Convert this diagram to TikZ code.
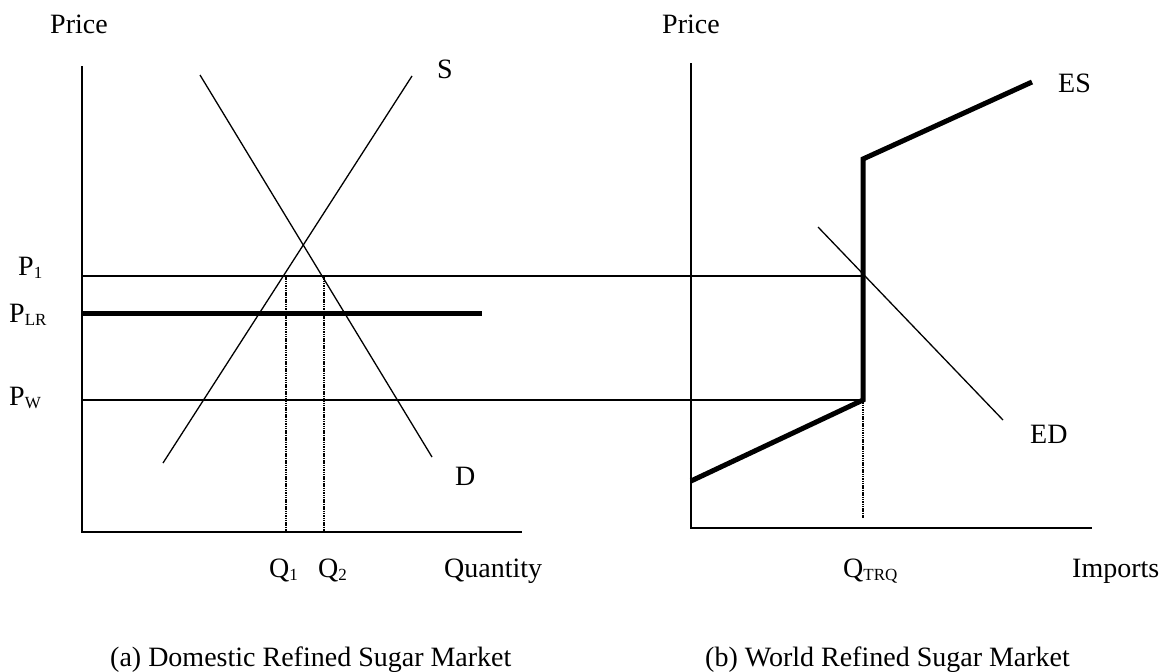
\documentclass[tikz,border=0pt]{standalone}
\usepackage{fontspec}
\setmainfont{Liberation Serif}
\newcommand{\lbl}[1]{\raisebox{-0.12em}{\fontsize{17}{17}\selectfont #1}}
\begin{document}
\begin{tikzpicture}[x=1pt,y=-1pt,
  thin line/.style={line width=1.3pt},
  thick curve/.style={line width=5pt},
  guide/.style={line width=1.3pt, dash pattern=on 1.5pt off 0.8pt},
  txt/.style={font=\fontsize{28}{32}\selectfont, inner sep=0pt, anchor=base west}]
\useasboundingbox (0,0) rectangle (1168,672);
% ---- coordinates, panel (a)
\coordinate (aO) at (82,532);
\coordinate (aT) at (82,66);
\coordinate (aX) at (522,532);
\coordinate (s0) at (163,463);
\coordinate (s1) at (412,76);
\coordinate (d0) at (200,75);
\coordinate (d1) at (432,457);
\coordinate (p1a) at (82,276);
\coordinate (pwa) at (82,400);
\coordinate (plr0) at (82,313);
\coordinate (plr1) at (482,313);
\coordinate (q1t) at (286,276);
\coordinate (q1b) at (286,532);
\coordinate (q2t) at (324,276);
\coordinate (q2b) at (324,532);
% ---- coordinates, panel (b)
\coordinate (bO) at (691,528);
\coordinate (bT) at (691,63);
\coordinate (bX) at (1092,528);
\coordinate (p1b) at (864,276);
\coordinate (pwb) at (863,400);
\coordinate (es0) at (691,481);
\coordinate (es1) at (863,400);
\coordinate (es2) at (863,159);
\coordinate (es3) at (1032,82);
\coordinate (ed0) at (818,227);
\coordinate (ed1) at (1003,420);
\coordinate (qtb) at (863,518);
% ---- axes
\draw[thin line] (aT) -- (aO) -- (aX);
\draw[thin line] (bT) -- (bO) -- (bX);
% ---- price lines
\draw[thin line] (p1a) -- (p1b);
\draw[thin line] (pwa) -- (pwb);
\draw[thick curve] (plr0) -- (plr1);
% ---- S and D
\draw[thin line] (s0) -- (s1);
\draw[thin line] (d0) -- (d1);
\draw[guide] (q1t) -- (q1b);
\draw[guide] (q2t) -- (q2b);
% ---- ES and ED
\draw[thick curve, line join=miter] (es0) -- (es1) -- (es2) -- (es3);
\draw[thin line] (ed0) -- (ed1);
\draw[guide] (es1) -- (qtb);
% ---- labels
\node[txt] (priceA) at (50,33) {Price};
\node[txt] (priceB) at (662,33) {Price};
\node[txt] (S) at (437,78) {S};
\node[txt] (D) at (455,485) {D};
\node[txt] (ES) at (1058,92) {ES};
\node[txt] (ED) at (1030,443) {ED};
\node[txt] (P1) at (18,275) {P\lbl{1}};
\node[txt] (PLR) at (9,322) {P\lbl{LR}};
\node[txt] (PW) at (9,405) {P\lbl{W}};
\node[txt] (Q1) at (269,577) {Q\lbl{1}};
\node[txt] (Q2) at (318,577) {Q\lbl{2}};
\node[txt] (Qty) at (444,577) {Quantity};
\node[txt] (QTRQ) at (843,577) {Q\lbl{TRQ}};
\node[txt] (Imp) at (1072,577) {Imports};
\node[txt] (capA) at (110,666) {(a) Domestic Refined Sugar Market};
\node[txt] (capB) at (705,666) {(b) World Refined Sugar Market};
\end{tikzpicture}
\end{document}
